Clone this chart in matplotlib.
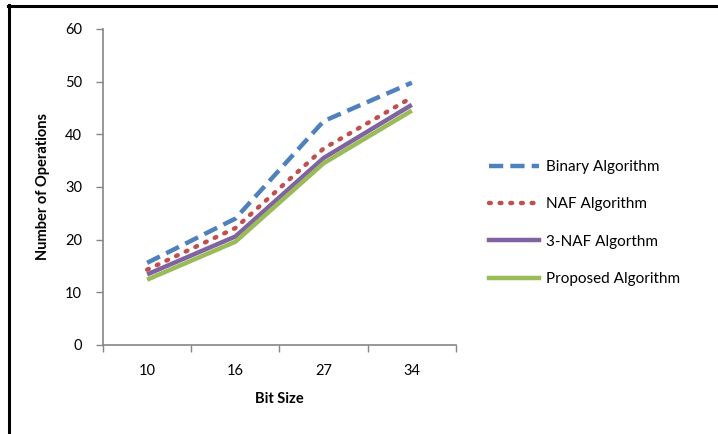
import matplotlib.pyplot as plt
from matplotlib.lines import Line2D

plt.rcParams['font.family'] = ['Lato', 'DejaVu Sans']

bit_sizes = ["10", "16", "27", "34"]
binary = [15.6, 24.0, 42.5, 49.8]
naf = [14.3, 22.2, 37.3, 47.0]
naf3 = [13.4, 20.6, 35.5, 45.6]
proposed = [12.4, 19.6, 34.5, 44.5]

dotted = (0, (0.4, 2.0))
series = [
    ("Binary Algorithm", binary, "#4F81BD", (0, (3.2, 1.6))),
    ("NAF Algorithm", naf, "#C0504D", dotted),
    ("3-NAF Algorthm", naf3, "#8064A2", "-"),
    ("Proposed Algorithm", proposed, "#9BBB59", "-"),
]

fig = plt.figure(figsize=(7.18, 4.34), dpi=100)
ax = fig.add_axes([0.1435, 0.2051, 0.4915, 0.7281])

x = [i + 0.5 for i in range(len(bit_sizes))]
for label, vals, color, ls in series:
    ax.plot(x, vals, color=color, linestyle=ls, linewidth=3.2, label=label,
            solid_capstyle="butt", dash_capstyle="round" if ls == dotted else "butt")

ax.set_xlim(0, 4)
ax.set_ylim(0, 60)
ax.set_yticks(range(0, 61, 10))
ax.set_xticks([0.5, 1.5, 2.5, 3.5])
ax.set_xticklabels(bit_sizes)
ax.set_xticks(range(0, 5), minor=True)
ax.tick_params(axis="x", which="major", length=0, pad=14, labelsize=10.5)
ax.tick_params(axis="x", which="minor", length=5, color="#868686", width=1)
ax.tick_params(axis="y", length=5, color="#868686", width=1, labelsize=10.5, pad=10)

for side in ["top", "right"]:
    ax.spines[side].set_visible(False)
for side in ["left", "bottom"]:
    ax.spines[side].set_color("#868686")
    ax.spines[side].set_linewidth(1.2)

ax.set_xlabel("Bit Size", fontweight="bold", fontsize=10.5, labelpad=10)
ax.set_ylabel("Number of Operations", fontweight="bold", fontsize=10.5, labelpad=11)

handles = [Line2D([0], [0], color=c, linestyle=ls, linewidth=3.2,
                  dash_capstyle="round" if ls == dotted else "butt")
           for _, _, c, ls in series]
fig.legend(handles, [s[0] for s in series], loc="center left",
           bbox_to_anchor=(0.662, 0.486), frameon=False, fontsize=11,
           handlelength=3.3, handletextpad=0.4, labelspacing=1.52)

# chart frame (left and top edges)
fig.add_artist(Line2D([0.0125, 0.0125], [0, 0.988], transform=fig.transFigure,
                      color="black", linewidth=2.2))
fig.add_artist(Line2D([0.0105, 1.0], [0.986, 0.986], transform=fig.transFigure,
                      color="black", linewidth=2.2))

fig.savefig("out.png", dpi=100)
